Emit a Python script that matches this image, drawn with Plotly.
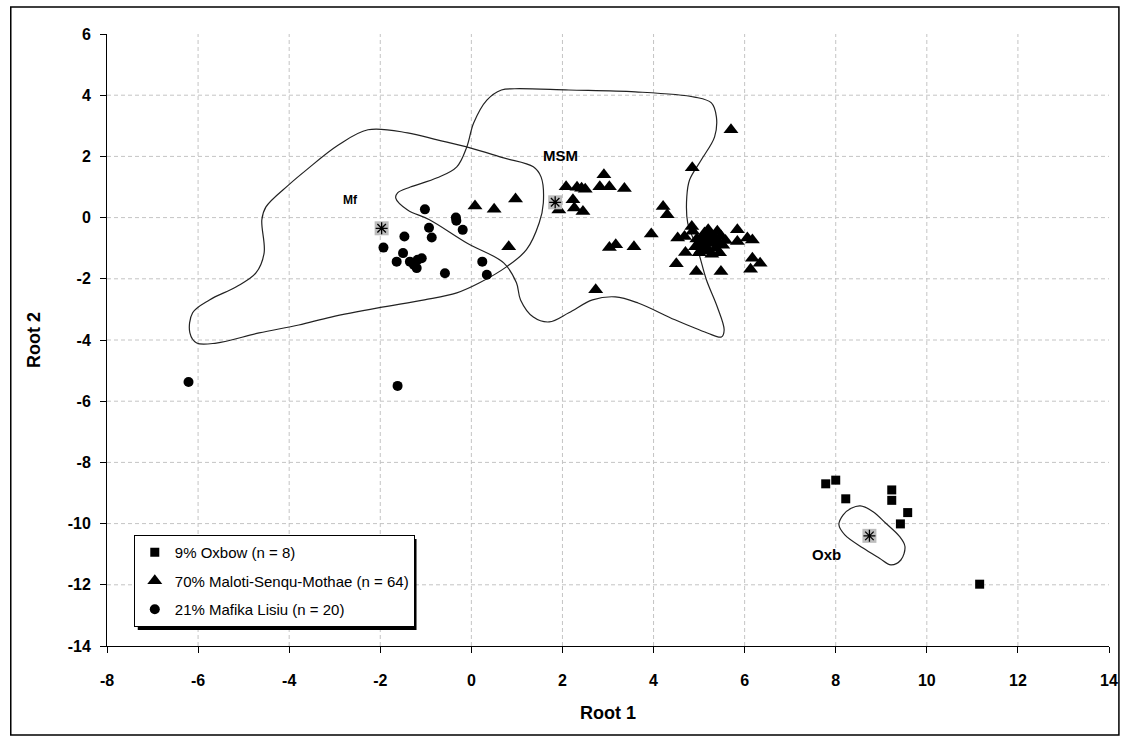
import plotly.graph_objects as go

# Discriminant scores (Root 1, Root 2) per group
oxbow_r1 = [7.78, 8.00, 8.22, 9.23, 9.23, 9.58, 9.42, 11.16]
oxbow_r2 = [-8.70, -8.58, -9.19, -8.90, -9.24, -9.64, -10.01, -11.98]

msm_r1 = [5.70, 4.85, 0.08, 0.50, 0.97, 0.82, 2.73, 2.91, 2.82, 3.03,
          3.36, 2.08, 2.32, 2.42, 2.50, 2.23, 2.26, 2.45, 1.92, 4.21,
          4.30, 3.95, 3.03, 3.17, 3.57, 4.50, 4.94, 5.48, 4.53, 4.68,
          4.70, 4.84, 5.84, 5.84, 6.06, 6.17, 6.17, 6.34, 6.13,
          4.86, 4.95, 5.02, 5.05, 5.10, 5.15, 5.18, 5.22, 5.25, 5.30,
          5.33, 5.36, 5.40, 5.42, 5.45, 5.48, 5.52, 5.20, 5.00, 4.92,
          5.28, 5.38, 5.12, 5.58, 5.08]
msm_r2 = [2.87, 1.63, 0.38, 0.27, 0.61, -0.95, -2.36, 1.40, 1.01, 1.01,
          0.95, 1.01, 0.99, 0.96, 0.93, 0.58, 0.31, 0.20, 0.25, 0.36,
          0.09, -0.54, -0.98, -0.89, -0.95, -1.51, -1.76, -1.76, -0.67, -0.62,
          -1.14, -0.29, -0.40, -0.78, -0.67, -0.73, -1.33, -1.49, -1.69,
          -0.45, -0.70, -0.85, -1.05, -0.60, -0.95, -0.75, -1.10, -0.55, -0.85,
          -0.65, -1.00, -0.45, -0.80, -1.15, -0.60, -0.90, -0.40, -1.15, -0.95,
          -1.20, -0.70, -0.50, -0.75, -0.85]

mafika_r1 = [-1.02, -0.34, -0.33, -0.19, -0.93, -0.87, -1.47, -1.93, -1.50, -1.64,
             -1.35, -1.26, -1.18, -1.09, -1.20, -0.58, 0.24, 0.34, -6.21, -1.62]
mafika_r2 = [0.27, 0.00, -0.10, -0.40, -0.33, -0.65, -0.62, -0.98, -1.16, -1.44,
             -1.44, -1.55, -1.38, -1.33, -1.65, -1.82, -1.44, -1.87, -5.37, -5.50]

# Group centroids
centroid_r1 = [8.74, 1.84, -1.97]
centroid_r2 = [-10.40, 0.50, -0.35]

# Group outlines
mf_outline_r1 = [-2.27, -1.40, -0.75, -0.03, 0.71, 1.36, 1.53, 1.58, 1.49, 1.21,
                 0.77, 0.18, -0.32, -1.03, -2.05, -3.08, -3.79, -4.66, -5.60, -6.03,
                 -6.18, -6.12, -5.75, -5.16, -4.73, -4.55, -4.60, -4.51, -4.01, -3.62,
                 -2.92, -2.27]
mf_outline_r2 = [2.87, 2.77, 2.54, 2.28, 1.95, 1.66, 1.33, 0.48, -0.17, -1.05,
                 -1.61, -2.13, -2.46, -2.69, -2.95, -3.25, -3.51, -3.77, -4.10, -4.10,
                 -3.77, -3.11, -2.69, -2.26, -1.81, -1.15, -0.07, 0.35, 1.07, 1.56,
                 2.37, 2.87]

msm_outline_r1 = [0.95, 2.14, 3.60, 4.90, 5.27, 5.38, 5.34, 5.05, 4.79, 4.73,
                  4.75, 4.97, 5.16, 5.40, 5.55, 5.49, 5.18, 4.47, 3.66, 3.16,
                  2.66, 2.14, 1.71, 1.36, 1.08, 0.99, 0.71, -0.10, -0.92, -1.40,
                  -1.66, -1.62, -1.34, -0.75, -0.32, -0.10, 0.05, 0.34, 0.66, 0.95]
msm_outline_r2 = [4.21, 4.17, 4.11, 3.94, 3.75, 3.29, 2.64, 1.89, 1.23, 0.68,
                  -0.17, -1.05, -2.03, -2.92, -3.67, -3.90, -3.77, -3.34, -2.79, -2.59,
                  -2.69, -3.11, -3.41, -3.25, -2.69, -2.13, -1.48, -0.83, -0.07, 0.25,
                  0.64, 0.81, 1.00, 1.30, 1.66, 2.31, 3.09, 3.84, 4.17, 4.21]

oxb_outline_r1 = [8.54, 8.82, 9.10, 9.40, 9.52, 9.43, 9.21, 8.96, 8.60, 8.20,
                  8.07, 8.16, 8.34, 8.54]
oxb_outline_r2 = [-9.42, -9.61, -9.99, -10.42, -10.75, -11.19, -11.35, -11.13, -10.80, -10.37,
                  -10.04, -9.72, -9.50, -9.42]

group_labels = ["Mf", "MSM", "Oxb"]
group_label_r1 = [-2.65, 1.95, 7.80]
group_label_r2 = [0.56, 2.03, -11.00]

x_ticks = list(range(-8, 15, 2))
y_ticks = list(range(-14, 7, 2))
x_tick_text = [str(v) for v in x_ticks]
y_tick_text = [str(v) for v in y_ticks]

FONT = "Liberation Sans, Arial, sans-serif"

fig = go.Figure()

for ox, oy in [(mf_outline_r1, mf_outline_r2),
               (msm_outline_r1, msm_outline_r2),
               (oxb_outline_r1, oxb_outline_r2)]:
    fig.add_trace(go.Scatter(
        x=ox, y=oy, mode="lines",
        line=dict(color="#222222", width=1.2, shape="spline", smoothing=1.0),
        showlegend=False, hoverinfo="skip"))

fig.add_trace(go.Scatter(
    x=oxbow_r1, y=oxbow_r2, mode="markers", name="9% Oxbow (n = 8)",
    legendgroup="a",
    marker=dict(symbol="square", size=9, color="black")))
fig.add_trace(go.Scatter(
    x=msm_r1, y=msm_r2, mode="markers", name="70% Maloti-Senqu-Mothae (n = 64)",
    legendgroup="b",
    marker=dict(symbol="triangle-up", size=13, color="black")))
fig.add_trace(go.Scatter(
    x=mafika_r1, y=mafika_r2, mode="markers", name="21% Mafika Lisiu (n = 20)",
    legendgroup="c",
    marker=dict(symbol="circle", size=10, color="black")))

# Centroids: grey square with an asterisk
fig.add_trace(go.Scatter(
    x=centroid_r1, y=centroid_r2, mode="markers", showlegend=False,
    marker=dict(symbol="square", size=14, color="#bdbdbd"), hoverinfo="skip"))
fig.add_trace(go.Scatter(
    x=centroid_r1, y=centroid_r2, mode="markers", showlegend=False,
    marker=dict(symbol="asterisk-open", size=10, color="black",
                line=dict(color="black", width=1.3)),
    hoverinfo="skip"))

label_sizes = {"Mf": 12, "MSM": 15, "Oxb": 15}
for t, gx, gy in zip(group_labels, group_label_r1, group_label_r2):
    fig.add_annotation(x=gx, y=gy, text=f"<b>{t}</b>", showarrow=False,
                       font=dict(family=FONT, size=label_sizes[t], color="black"))

# Dashed grid at the interior tick positions
grid_style = dict(color="#c4c4c4", width=1, dash="4px,3px")
for v in x_ticks[1:-1]:
    fig.add_shape(type="line", xref="x", yref="y", x0=v, x1=v, y0=y_ticks[0], y1=y_ticks[-1],
                  line=grid_style, layer="below")
for v in y_ticks[1:-1]:
    fig.add_shape(type="line", xref="x", yref="y", x0=x_ticks[0], x1=x_ticks[-1], y0=v, y1=v,
                  line=grid_style, layer="below")

axis_common = dict(
    showgrid=False,
    showline=True, linecolor="black", linewidth=1,
    ticks="outside", ticklen=6, tickcolor="black", tickwidth=1,
    zeroline=False,
    tickfont=dict(family=FONT, size=16, color="black", weight="bold"),
)

fig.update_xaxes(range=[-8, 14], tickvals=x_ticks, ticktext=x_tick_text, ticklabelstandoff=14,
                 title=dict(text="<b>Root 1</b>", font=dict(family=FONT, size=18, color="black"),
                            standoff=18),
                 **axis_common)
fig.update_yaxes(range=[-14, 6], tickvals=y_ticks, ticktext=y_tick_text, ticklabelstandoff=6,
                 title=dict(text="<b>Root 2</b>", font=dict(family=FONT, size=18, color="black"),
                            standoff=22),
                 **axis_common)

# Outer frame and legend shadow (paper coordinates from pixel positions)
pw, ph, ml, mb = 1010.0, 612.0, 107.0, 92.0
def px_x(p):
    return (p - ml) / pw
def px_y(p):
    return (738 - mb - p) / ph

fig.add_shape(type="rect", xref="paper", yref="paper",
              x0=px_x(10), x1=px_x(1127), y0=px_y(735), y1=px_y(7),
              line=dict(color="black", width=1.5), fillcolor="rgba(0,0,0,0)", layer="below")
fig.add_shape(type="rect", xref="paper", yref="paper",
              x0=px_x(138), x1=px_x(419), y0=px_y(630), y1=px_y(539),
              line=dict(width=0), fillcolor="black", layer="above")

fig.update_layout(
    width=1130, height=738,
    margin=dict(l=107, r=13, t=34, b=92),
    paper_bgcolor="white", plot_bgcolor="white",
    font=dict(family=FONT, color="black"),
    legend=dict(x=px_x(134), y=px_y(535), xanchor="left", yanchor="top",
                bgcolor="white", bordercolor="black", borderwidth=1,
                font=dict(family=FONT, size=15, color="black"),
                tracegroupgap=6, itemwidth=30),
)

fig.write_html("out.html")
